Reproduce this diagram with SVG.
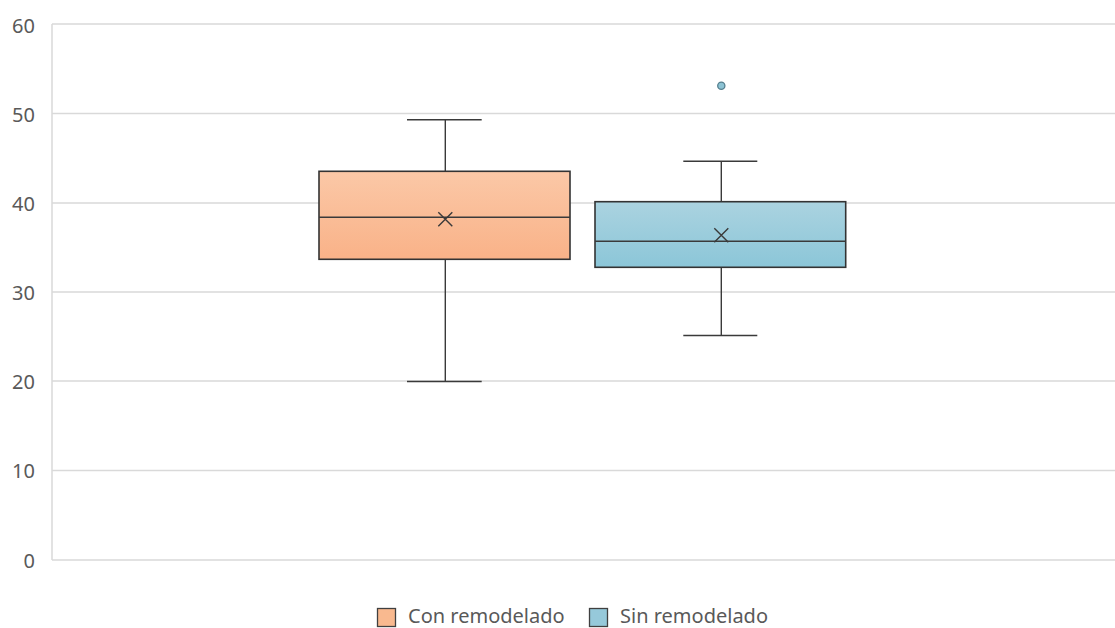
<svg xmlns="http://www.w3.org/2000/svg" width="1115" height="628" viewBox="0 0 1115 628">
<style>
.grid{stroke:#d9d9d9;stroke-width:1.5;fill:none}
.lbl{font-family:"Noto Sans","Open Sans",sans-serif;font-size:20px;fill:#595959}
.ax{text-anchor:end}
.ln{stroke:#3a3a3a;stroke-width:1.4;fill:none}
.box{stroke:#333;stroke-width:1.6}
</style>
<defs>
<linearGradient id="gO" x1="0" y1="0" x2="0" y2="1"><stop offset="0" stop-color="#fbc8a7"/><stop offset="1" stop-color="#f9b288"/></linearGradient>
<linearGradient id="gB" x1="0" y1="0" x2="0" y2="1"><stop offset="0" stop-color="#abd3e0"/><stop offset="1" stop-color="#8bc6d8"/></linearGradient>
</defs>
<rect width="1115" height="628" fill="#fff"/>
<g id="axes">
<path class="grid" d="M52 24H1115M52 113.5H1115M52 203H1115M52 292H1115M52 381H1115M52 470.5H1115M52 560H1115M52 24V560"/>
<text class="lbl ax" x="35" y="33">60</text>
<text class="lbl ax" x="35" y="122">50</text>
<text class="lbl ax" x="35" y="211">40</text>
<text class="lbl ax" x="35" y="300">30</text>
<text class="lbl ax" x="35" y="389">20</text>
<text class="lbl ax" x="35" y="478">10</text>
<text class="lbl ax" x="35" y="568">0</text>
</g>
<g id="con-remodelado">
<path class="ln" d="M445.3 119.7V171.3M445.3 259.3V381.5M407 119.7H481.7M407 381.5H481.7"/>
<rect class="box" x="319" y="171.3" width="251" height="88" fill="url(#gO)"/>
<path class="ln" d="M319 217.3H570"/>
<path class="ln" d="M438.3 212.3L452.3 226.3M452.3 212.3L438.3 226.3"/>
</g>
<g id="sin-remodelado">
<path class="ln" d="M721.3 161.3V201.7M721.3 267.3V335.5M683.3 161.3H757.3M683.3 335.5H757.3"/>
<rect class="box" x="595" y="201.7" width="250.7" height="65.6" fill="url(#gB)"/>
<path class="ln" d="M595 241.3H845.7"/>
<path class="ln" d="M714.3 228.3L728.3 242.3M728.3 228.3L714.3 242.3"/>
<circle cx="721.3" cy="85.7" r="3.6" fill="#8cc3d4" stroke="#557f8e" stroke-width="1.3"/>
</g>
<g id="legend">
<rect x="377.5" y="608.5" width="18" height="18" fill="#f9b98f" stroke="#404040" stroke-width="1.3"/>
<text class="lbl" x="408" y="623">Con remodelado</text>
<rect x="589.5" y="608.5" width="18" height="18" fill="#96c9da" stroke="#404040" stroke-width="1.3"/>
<text class="lbl" x="620" y="623">Sin remodelado</text>
</g>
</svg>
